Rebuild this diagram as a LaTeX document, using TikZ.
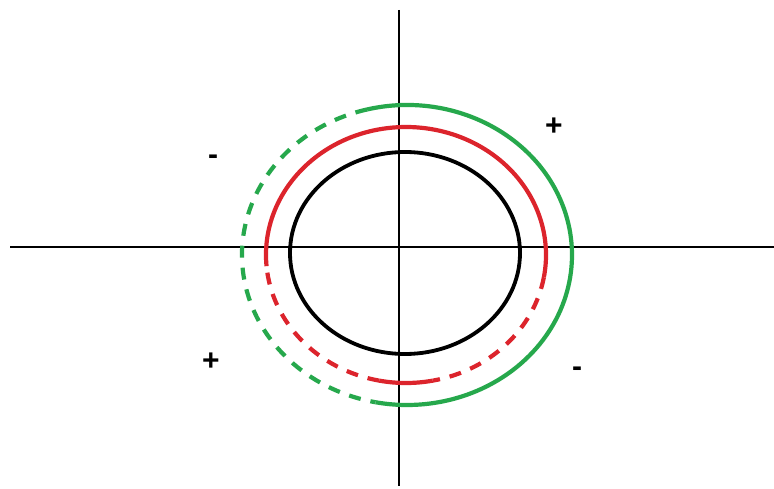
\documentclass[tikz,border=0pt]{standalone}
\usepackage{fontspec}
\setmainfont{Liberation Sans}
\definecolor{cred}{RGB}{220,36,44}
\definecolor{cgreen}{RGB}{38,168,76}
\begin{document}
\begin{tikzpicture}[x=1pt,y=1pt,
  axis/.style={line width=1.4pt,black},
  blackcurve/.style={line width=3.8pt,black},
  redcurve/.style={line width=4.2pt,cred},
  greencurve/.style={line width=4.2pt,cgreen},
  dashpart/.style={dash pattern=on 12pt off 10pt},
  sign/.style={inner sep=0pt,font=\fontsize{30}{34}\selectfont\bfseries}]
\useasboundingbox (0,0) rectangle (774,488);
\fill[white] (0,0) rectangle (774,488);
% axes
\coordinate (vt) at (399,478);
\coordinate (vb) at (399,2);
\coordinate (hl) at (10,241);
\coordinate (hr) at (774,241);
\draw[axis] (vt) -- (vb);
\draw[axis] (hl) -- (hr);
% black ellipse
\coordinate (bc) at (405,235);
\draw[blackcurve] (bc) ellipse [x radius=115, y radius=101];
% red curve
\coordinate (rc) at (406,233);
\draw[redcurve] ([shift={(185:140 and 128)}]rc) arc [start angle=185, end angle=-10, x radius=140, y radius=128];
\draw[redcurve,dashpart] ([shift={(-10:140 and 128)}]rc) arc [start angle=-10, end angle=-79, x radius=140, y radius=128];
\draw[redcurve] ([shift={(-79:140 and 128)}]rc) arc [start angle=-79, end angle=-101, x radius=140, y radius=128];
\draw[redcurve,dashpart] ([shift={(-101:140 and 128)}]rc) arc [start angle=-101, end angle=-175, x radius=140, y radius=128];
% green curve
\coordinate (gc) at (407,233);
\draw[greencurve] ([shift={(104:165 and 150)}]gc) arc [start angle=104, end angle=-101, x radius=165, y radius=150];
\draw[greencurve,dashpart] ([shift={(104:165 and 150)}]gc) arc [start angle=104, end angle=259, x radius=165, y radius=150];
% signs
\node[sign] (m1) at (213,328) {-};
\node[sign] (p1) at (554,361) {+};
\node[sign] (p2) at (211,126) {+};
\node[sign] (m2) at (577,116) {-};
\end{tikzpicture}
\end{document}
